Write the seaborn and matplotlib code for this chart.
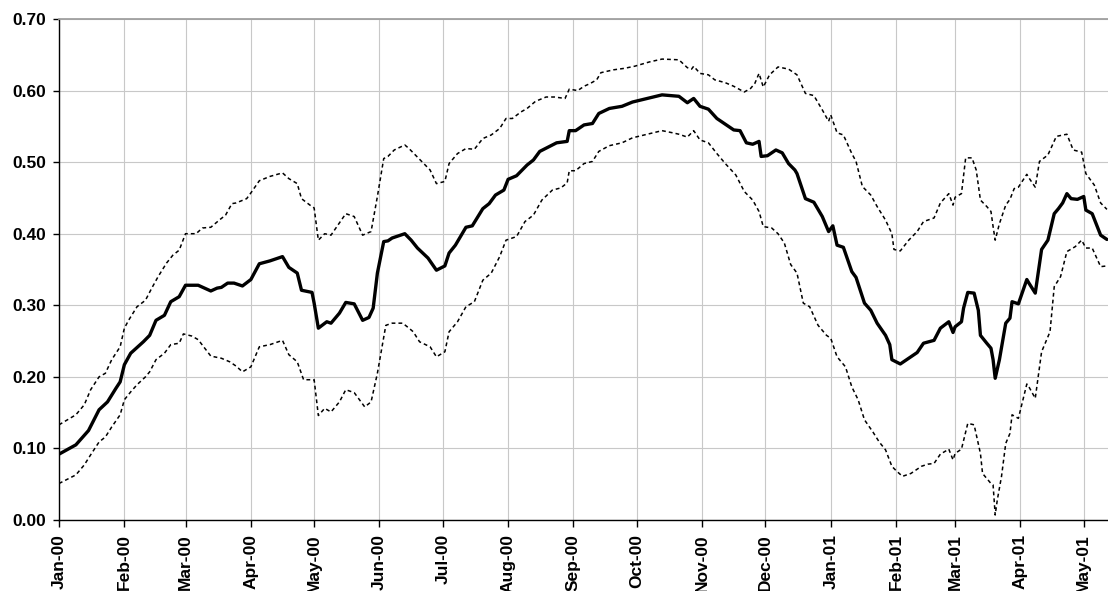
import matplotlib
matplotlib.use("Agg")
import matplotlib.pyplot as plt
import matplotlib.dates as mdates
import seaborn as sns
import pandas as pd

# giorni dopo il 1 gennaio 2000 e valori
start_date = "2000-01-01"

mid_days = [0, 8, 14, 19, 23, 27, 29, 31, 34, 40, 43, 46, 50, 53, 57, 60, 66, 72, 75, 77,
            80, 83, 87, 91, 95, 100, 106, 109, 113, 115, 120, 121, 123, 127, 129, 133, 136, 140, 144, 147,
            149, 151, 154, 156, 158, 164, 167, 170, 175, 179, 183, 185, 188, 193, 196, 201, 204, 207, 211, 213,
            217, 222, 225, 228, 232, 236, 241, 242, 245, 249, 253, 256, 261, 267, 272, 279, 286, 294, 298, 301,
            304, 308, 312, 316, 320, 323, 326, 329, 332, 333, 336, 340, 343, 346, 349, 350, 354, 358, 362, 365,
            367, 369, 372, 376, 378, 382, 385, 388, 392, 394, 395, 399, 403, 407, 410, 415, 418, 422, 424, 425,
            428, 429, 431, 434, 436, 437, 440, 442, 443, 444, 446, 449, 451, 452, 455, 459, 460, 463, 466, 469,
            472, 474, 476, 478, 480, 483, 486, 487, 490, 494, 497]
mid_vals = [0.092, 0.105, 0.125, 0.154, 0.165, 0.184, 0.193, 0.217, 0.233, 0.249, 0.258, 0.279, 0.286, 0.305, 0.312, 0.328, 0.328, 0.320, 0.324, 0.325,
            0.331, 0.331, 0.327, 0.336, 0.358, 0.362, 0.368, 0.353, 0.345, 0.321, 0.318, 0.303, 0.268, 0.277, 0.275, 0.289, 0.304, 0.302, 0.279, 0.283,
            0.296, 0.345, 0.389, 0.390, 0.394, 0.400, 0.391, 0.380, 0.366, 0.349, 0.355, 0.373, 0.384, 0.409, 0.411, 0.435, 0.442, 0.454, 0.461, 0.476,
            0.481, 0.496, 0.503, 0.515, 0.521, 0.527, 0.529, 0.544, 0.544, 0.552, 0.554, 0.568, 0.575, 0.578, 0.584, 0.589, 0.594, 0.592, 0.583, 0.589,
            0.578, 0.574, 0.561, 0.553, 0.545, 0.544, 0.527, 0.525, 0.529, 0.508, 0.509, 0.517, 0.513, 0.498, 0.489, 0.484, 0.449, 0.444, 0.424, 0.403,
            0.411, 0.384, 0.381, 0.347, 0.339, 0.303, 0.293, 0.275, 0.258, 0.245, 0.224, 0.218, 0.226, 0.234, 0.247, 0.251, 0.268, 0.277, 0.262, 0.270,
            0.277, 0.296, 0.318, 0.317, 0.293, 0.258, 0.247, 0.240, 0.224, 0.198, 0.224, 0.275, 0.282, 0.305, 0.302, 0.336, 0.331, 0.317, 0.378, 0.391,
            0.428, 0.435, 0.443, 0.456, 0.449, 0.448, 0.452, 0.433, 0.428, 0.398, 0.392]

up_days = [0, 8, 12, 15, 19, 22, 25, 29, 31, 33, 37, 41, 44, 47, 51, 54, 57, 60, 65, 68,
           72, 76, 79, 82, 84, 89, 91, 95, 100, 106, 109, 113, 115, 119, 121, 123, 126, 129, 133, 136,
           140, 144, 148, 151, 154, 156, 159, 164, 166, 169, 173, 176, 179, 183, 185, 189, 193, 197, 201, 205,
           209, 212, 215, 219, 222, 226, 231, 235, 240, 242, 246, 249, 252, 255, 257, 263, 268, 273, 280, 286,
           294, 298, 300, 301, 304, 308, 311, 316, 320, 325, 328, 330, 332, 334, 337, 341, 346, 350, 354, 358,
           362, 365, 366, 369, 372, 376, 378, 381, 385, 388, 392, 395, 396, 399, 403, 407, 410, 415, 418, 422,
           424, 425, 428, 430, 433, 435, 437, 440, 442, 443, 444, 446, 449, 451, 453, 455, 459, 460, 463, 465,
           469, 473, 478, 481, 485, 487, 491, 494, 497]
up_vals = [0.133, 0.147, 0.161, 0.182, 0.200, 0.205, 0.224, 0.242, 0.268, 0.279, 0.298, 0.307, 0.324, 0.340, 0.359, 0.370, 0.377, 0.400, 0.400, 0.408,
           0.409, 0.419, 0.426, 0.442, 0.443, 0.449, 0.457, 0.474, 0.480, 0.485, 0.477, 0.470, 0.449, 0.440, 0.436, 0.391, 0.400, 0.398, 0.415, 0.428,
           0.424, 0.398, 0.403, 0.452, 0.505, 0.508, 0.517, 0.524, 0.519, 0.510, 0.498, 0.489, 0.470, 0.473, 0.498, 0.512, 0.519, 0.518, 0.533, 0.538,
           0.547, 0.561, 0.561, 0.570, 0.575, 0.585, 0.591, 0.591, 0.589, 0.602, 0.600, 0.606, 0.610, 0.615, 0.625, 0.629, 0.631, 0.634, 0.640, 0.644,
           0.643, 0.632, 0.630, 0.634, 0.624, 0.622, 0.615, 0.611, 0.606, 0.598, 0.603, 0.610, 0.624, 0.605, 0.622, 0.633, 0.630, 0.622, 0.596, 0.593,
           0.573, 0.557, 0.566, 0.541, 0.538, 0.512, 0.501, 0.466, 0.454, 0.438, 0.419, 0.400, 0.378, 0.376, 0.391, 0.403, 0.417, 0.422, 0.443, 0.456,
           0.440, 0.451, 0.456, 0.506, 0.506, 0.489, 0.447, 0.438, 0.431, 0.410, 0.391, 0.414, 0.440, 0.448, 0.463, 0.465, 0.483, 0.478, 0.465, 0.501,
           0.510, 0.536, 0.539, 0.517, 0.514, 0.484, 0.468, 0.443, 0.434]

low_days = [0, 8, 12, 15, 19, 22, 25, 29, 31, 34, 37, 41, 43, 46, 50, 53, 57, 59, 63, 66,
            72, 77, 81, 84, 87, 91, 95, 100, 106, 109, 113, 116, 121, 123, 126, 129, 133, 136, 140, 145,
            148, 151, 155, 158, 163, 166, 168, 171, 176, 179, 183, 185, 189, 193, 197, 201, 205, 209, 212, 217,
            221, 225, 229, 234, 238, 241, 242, 245, 249, 253, 256, 261, 267, 272, 279, 286, 291, 294, 298, 301,
            304, 308, 312, 316, 321, 325, 329, 332, 334, 338, 341, 344, 347, 350, 353, 356, 360, 364, 366, 369,
            373, 376, 379, 382, 386, 389, 392, 395, 397, 400, 404, 409, 412, 415, 418, 422, 424, 425, 428, 431,
            434, 437, 438, 442, 443, 444, 445, 447, 449, 451, 452, 455, 459, 460, 463, 466, 470, 472, 475, 478,
            482, 485, 487, 490, 494, 497]
low_vals = [0.051, 0.063, 0.077, 0.091, 0.109, 0.116, 0.130, 0.147, 0.168, 0.179, 0.189, 0.200, 0.207, 0.224, 0.233, 0.245, 0.247, 0.260, 0.257, 0.252,
            0.229, 0.226, 0.221, 0.215, 0.207, 0.214, 0.242, 0.245, 0.251, 0.231, 0.221, 0.196, 0.196, 0.146, 0.156, 0.151, 0.165, 0.182, 0.178, 0.158,
            0.165, 0.205, 0.272, 0.275, 0.275, 0.268, 0.263, 0.249, 0.242, 0.228, 0.235, 0.263, 0.277, 0.298, 0.305, 0.335, 0.345, 0.368, 0.391, 0.396,
            0.417, 0.426, 0.447, 0.461, 0.464, 0.471, 0.488, 0.488, 0.498, 0.501, 0.515, 0.523, 0.527, 0.534, 0.539, 0.544, 0.541, 0.539, 0.535, 0.544,
            0.531, 0.527, 0.512, 0.498, 0.482, 0.459, 0.447, 0.431, 0.410, 0.408, 0.400, 0.387, 0.357, 0.345, 0.303, 0.298, 0.272, 0.258, 0.254, 0.228,
            0.214, 0.186, 0.168, 0.140, 0.123, 0.109, 0.098, 0.075, 0.069, 0.061, 0.065, 0.075, 0.078, 0.079, 0.092, 0.099, 0.084, 0.093, 0.099, 0.135,
            0.133, 0.093, 0.065, 0.051, 0.049, 0.007, 0.028, 0.061, 0.107, 0.121, 0.147, 0.142, 0.190, 0.186, 0.170, 0.235, 0.263, 0.326, 0.340, 0.375,
            0.382, 0.391, 0.380, 0.380, 0.354, 0.355]

y_ticks = [0.0, 0.1, 0.2, 0.3, 0.4, 0.5, 0.6, 0.7]

start = pd.Timestamp(start_date)


def make_df(days, vals):
    return pd.DataFrame({"date": start + pd.to_timedelta(days, unit="D"), "value": vals})


mid = make_df(mid_days, mid_vals)
up = make_df(up_days, up_vals)
low = make_df(low_days, low_vals)

sns.set_theme(style="whitegrid")
plt.rcParams["font.family"] = ["Liberation Sans", "DejaVu Sans"]

fig = plt.figure(figsize=(11.08, 5.91), dpi=100)
ax = fig.add_axes([59 / 1108, 1 - 520 / 591, 1 - 59 / 1108, (520 - 19) / 591])

sns.lineplot(data=up, x="date", y="value", ax=ax, color="black", linewidth=1.1,
             linestyle=(0, (2.5, 2.0)), estimator=None, sort=False)
sns.lineplot(data=low, x="date", y="value", ax=ax, color="black", linewidth=1.1,
             linestyle=(0, (2.5, 2.0)), estimator=None, sort=False)
sns.lineplot(data=mid, x="date", y="value", ax=ax, color="black", linewidth=2.4,
             estimator=None, sort=False)

ax.set_xlim(start, start + pd.Timedelta(days=497.5))
ax.set_ylim(0, 0.7)
ax.set_yticks(y_ticks)
ax.yaxis.set_major_formatter(plt.FormatStrFormatter("%.2f"))
ax.xaxis.set_major_locator(mdates.MonthLocator())
ax.xaxis.set_major_formatter(mdates.DateFormatter("%b-%y"))
ax.set_xlabel("")
ax.set_ylabel("")

ax.grid(True, color="#c8c8c8", linewidth=0.8)
ax.set_facecolor("white")
for s in ["left", "bottom"]:
    ax.spines[s].set_color("black")
    ax.spines[s].set_linewidth(1.0)
ax.spines["top"].set_color("#a0a0a0")
ax.spines["top"].set_linewidth(1.3)
ax.spines["right"].set_visible(False)

ax.tick_params(axis="x", bottom=True, length=5, width=1, color="black", pad=5,
               labelsize=12.5, labelrotation=90)
ax.tick_params(axis="y", left=True, length=4, width=1, color="black", pad=5, labelsize=12.5)
for lab in ax.get_xticklabels() + ax.get_yticklabels():
    lab.set_fontweight("bold")
    lab.set_color("black")

fig.savefig("out.png", dpi=100)
